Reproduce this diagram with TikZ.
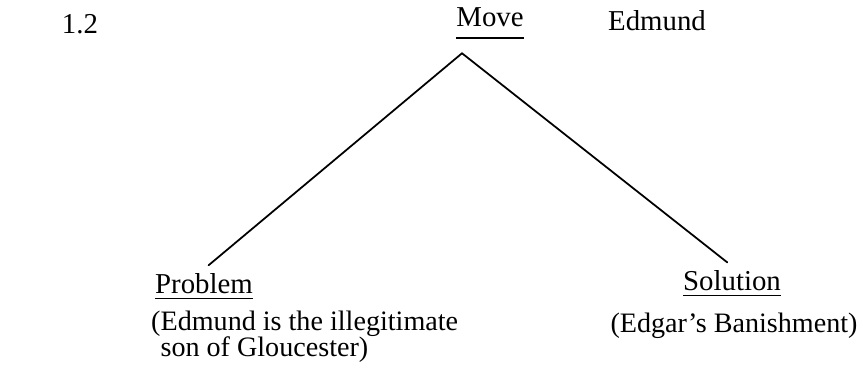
\documentclass[tikz,border=0pt]{standalone}
\usepackage{fontspec}
\setmainfont{Liberation Serif}
\usepackage{tikz}
\usetikzlibrary{positioning}

\tikzset{
  toplabel/.style={font=\fontsize{8.2}{9}\selectfont, inner sep=1pt},
  termlabel/.style={font=\fontsize{8.2}{9}\selectfont, inner sep=1pt},
  glosslabel/.style={font=\fontsize{8}{7.4}\selectfont, inner sep=1pt, align=left},
  branch/.style={line width=0.5pt, line cap=round, shorten >=0.6mm}
}

\begin{document}
\begin{tikzpicture}
  \useasboundingbox (0,0) rectangle (8.63,3.79);
  \node[toplabel] (num) at (0.80,3.55) {1.2};
  \node[toplabel] (move) at (4.90,3.55) {\underline{Move\vphantom{y}}};
  \node[toplabel] (who) at (6.57,3.58) {Edmund};
  \node[termlabel] (problem) at (2.04,0.92) {\underline{Problem}};
  \node[termlabel] (solution) at (7.32,0.95) {\underline{Solution}};
  \node[glosslabel, anchor=west] (pgloss) at (1.47,0.42) {(Edmund is the illegitimate\\\phantom{(}son of Gloucester)};
  \node[glosslabel] (sgloss) at (7.34,0.53) {(Edgar's Banishment)};
  \coordinate (apex) at ([xshift=-2.8mm, yshift=-0.9mm]move.south);
  \draw[branch] (apex) -- (problem.north);
  \draw[branch] (apex) -- (solution.north);
\end{tikzpicture}
\end{document}
